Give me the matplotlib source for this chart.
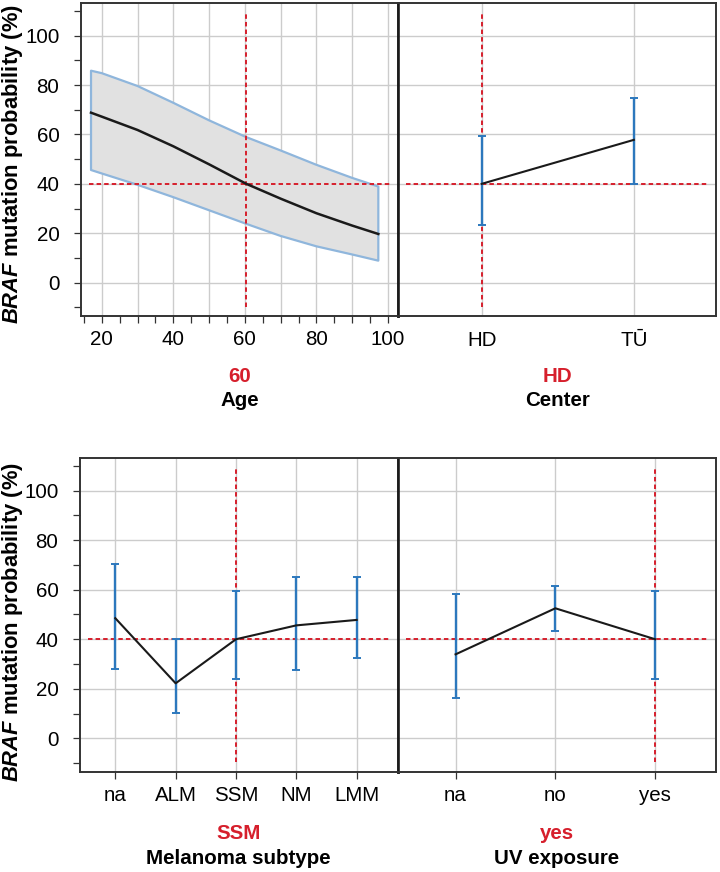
import matplotlib
matplotlib.use("Agg")
import matplotlib.pyplot as plt
from matplotlib.ticker import MultipleLocator, FuncFormatter, FixedLocator

plt.rcParams['font.family'] = ['Liberation Sans', 'DejaVu Sans']
plt.rcParams['mathtext.fontset'] = 'custom'
plt.rcParams['mathtext.rm'] = 'Liberation Sans'
plt.rcParams['mathtext.bf'] = 'Liberation Sans:bold'
plt.rcParams['mathtext.it'] = 'Liberation Sans:italic'
try:
    plt.rcParams['mathtext.bfit'] = 'Liberation Sans:italic:bold'
    YLABEL = r"$\mathbfit{BRAF}$ mutation probability (%)"
except Exception:
    YLABEL = r"$\mathit{BRAF}$ mutation probability (%)"

# ---------------- data ----------------
age = [17, 20, 30, 40, 50, 60.4, 70, 80, 90, 97.3]
age_pred = [68.8, 67.2, 61.8, 55.2, 47.9, 40.0, 34.0, 28.1, 23.1, 19.7]
age_upper = [85.8, 84.8, 79.6, 72.8, 65.7, 58.9, 53.5, 47.7, 42.4, 38.9]
age_lower = [45.6, 44.2, 39.6, 34.6, 29.3, 23.8, 18.9, 14.7, 11.4, 8.9]
age_current = 60.4
age_current_label = "60"

center_cats = ["HD", "TŪ"]
center_pred = [40.0, 57.8]
center_upper = [59.2, 74.7]
center_lower = [23.4, 40.0]
center_current = "HD"

subtype_cats = ["na", "ALM", "SSM", "NM", "LMM"]
subtype_pred = [48.5, 22.2, 40.0, 45.6, 47.8]
subtype_upper = [70.5, 40.0, 59.6, 65.1, 65.0]
subtype_lower = [28.1, 10.3, 23.8, 27.6, 32.6]
subtype_current = "SSM"

uv_cats = ["na", "no", "yes"]
uv_pred = [33.9, 52.5, 40.0]
uv_upper = [58.2, 61.5, 59.6]
uv_lower = [16.4, 43.3, 23.8]
uv_current = "yes"

current_prob = 40.0

# ---------------- style ----------------
RED = '#d61f2c'
BLUE = '#2c78bd'
BAND_EDGE = '#8fb6dc'
BAND_FILL = '#e1e1e1'
GRID = '#cccccc'
FRAME = '#333333'
FS = 14.8
DASH = (0, (2.3, 1.6))

fig = plt.figure(figsize=(7.2, 8.72), dpi=100)
W, H = 720.0, 872.0


def make_ax(l, t, r, b):
    return fig.add_axes([l / W, 1 - b / H, (r - l) / W, (b - t) / H])


ylim = (-13.5, 113.2)

ax_age = make_ax(81, 3, 398, 316)
ax_cen = make_ax(398, 3, 716, 316)
ax_sub = make_ax(80, 458, 397.7, 771.7)
ax_uv = make_ax(397.7, 458, 716, 771.7)


def style_common(ax, left_panel):
    ax.set_ylim(*ylim)
    for s in ax.spines.values():
        s.set_color(FRAME)
        s.set_linewidth(1.4)
    ax.yaxis.set_major_locator(MultipleLocator(20))
    ax.yaxis.set_minor_locator(MultipleLocator(10))
    if left_panel:
        ax.spines['right'].set_linewidth(1.9)
        ax.spines['right'].set_color('#1a1a1a')
        ax.tick_params(axis='y', which='both', length=5, width=0.9,
                       color=FRAME, labelsize=FS, pad=10.5)
    else:
        ax.spines['left'].set_linewidth(1.9)
        ax.spines['left'].set_color('#1a1a1a')
        ax.tick_params(axis='y', which='both', length=0, labelleft=False)
    ax.tick_params(axis='x', which='both', length=5, width=0.9,
                   color=FRAME, labelsize=FS, pad=5)
    ax.set_axisbelow(True)
    ax.grid(True, which='major', axis='y', color=GRID, linewidth=1.0)
    ax.set_facecolor('white')


def ref_lines(ax, xval):
    ax.axhline(current_prob, xmin=0.025, xmax=0.975, color=RED,
               linewidth=1.4, linestyle=DASH, zorder=3)
    if xval is not None:
        ax.axvline(xval, ymin=0.03, ymax=0.97, color=RED,
                   linewidth=1.4, linestyle=DASH, zorder=3)


# ---- Age panel ----
style_common(ax_age, True)
ax_age.set_xlim(14.2, 102.8)
ax_age.xaxis.set_major_locator(MultipleLocator(10))
ax_age.xaxis.set_minor_locator(MultipleLocator(5))
ax_age.xaxis.set_major_formatter(FuncFormatter(
    lambda v, p: f"{int(round(v))}" if int(round(v)) % 20 == 0 else ""))
ax_age.grid(True, which='major', axis='x', color=GRID, linewidth=1.0)
poly_x = age + age[::-1]
poly_y = age_upper + age_lower[::-1]
ax_age.fill(poly_x, poly_y, facecolor=BAND_FILL, edgecolor=BAND_EDGE,
            linewidth=1.6, zorder=2, joinstyle='round')
ax_age.plot(age, age_pred, color='#1a1a1a', linewidth=1.8, zorder=4,
            solid_joinstyle='round')
ref_lines(ax_age, age_current)


def cat_panel(ax, cats, pred, lo, hi, current, xlim, left_panel,
              ticks_visible=True):
    style_common(ax, left_panel)
    xs = list(range(len(cats)))
    ax.set_xlim(*xlim)
    ax.xaxis.set_major_locator(FixedLocator(xs))
    ax.set_xticklabels(cats)
    if not ticks_visible:
        ax.tick_params(axis='x', length=0, pad=10.5)
    ax.grid(True, which='major', axis='x', color=GRID, linewidth=1.0)
    yerr = [[p - l for p, l in zip(pred, lo)], [h - p for p, h in zip(pred, hi)]]
    ax.errorbar(xs, pred, yerr=yerr, fmt='none', ecolor=BLUE,
                elinewidth=1.7, capsize=3.2, capthick=1.4, zorder=4)
    ax.plot(xs, pred, color='#1a1a1a', linewidth=1.5, zorder=5)
    ref_lines(ax, cats.index(current))


cat_panel(ax_cen, center_cats, center_pred, center_lower, center_upper,
          center_current, (-0.55, 1.54), False, ticks_visible=False)
cat_panel(ax_sub, subtype_cats, subtype_pred, subtype_lower, subtype_upper,
          subtype_current, (-0.585, 4.68), True)
cat_panel(ax_uv, uv_cats, uv_pred, uv_lower, uv_upper,
          uv_current, (-0.58, 2.61), False)


# ---- labels below panels ----
def under(xc, y_val, y_name, val, name):
    fig.text(xc / W, 1 - y_val / H, val, color=RED, fontsize=FS,
             fontweight='bold', ha='center', va='center')
    fig.text(xc / W, 1 - y_name / H, name, color='black', fontsize=FS,
             fontweight='bold', ha='center', va='center')


under(240, 376, 400, age_current_label, "Age")
under(557, 376, 400, center_current, "Center")
under(238.8, 833, 858, subtype_current, "Melanoma subtype")
under(557, 833, 858, uv_current, "UV exposure")

# ---- y labels ----
for yc in (164, 621.7):
    fig.text(13 / W, 1 - yc / H, YLABEL, rotation=90, fontsize=15.8,
             fontweight='bold', ha='center', va='center')

fig.savefig("out.png", dpi=100)
